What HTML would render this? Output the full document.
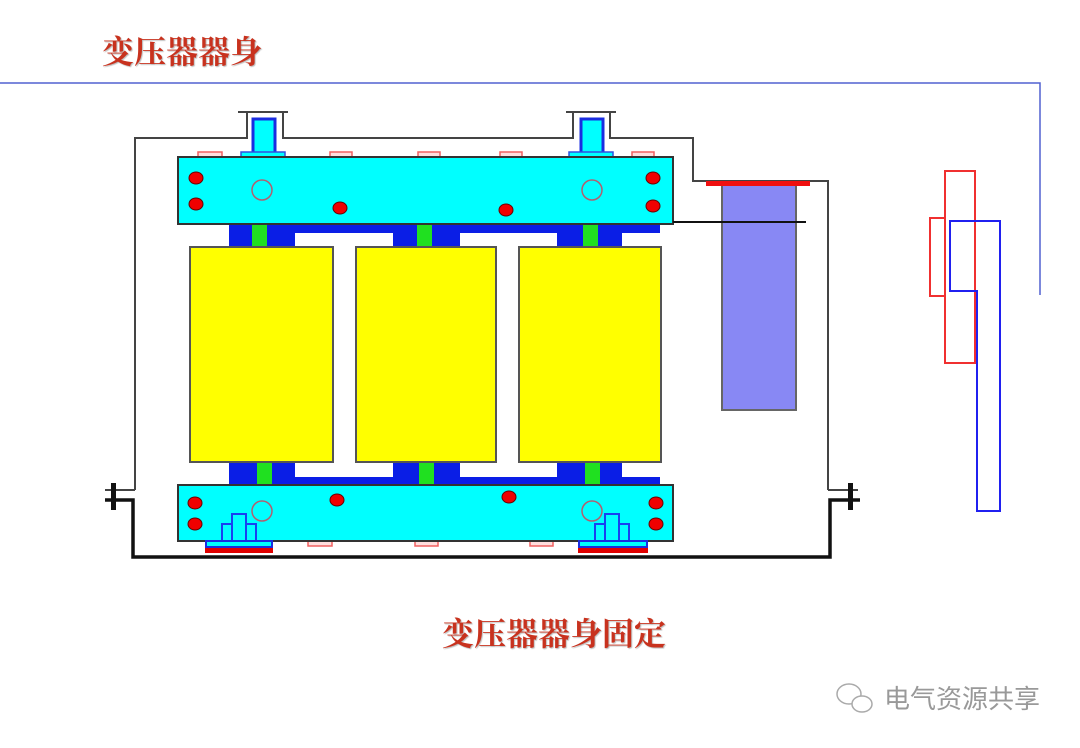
<!DOCTYPE html>
<html><head><meta charset="utf-8"><style>
html,body{margin:0;padding:0;background:#fff;width:1080px;height:748px;overflow:hidden}
.t{position:absolute;font-family:"Liberation Serif","Noto Serif CJK SC",serif;font-weight:bold;color:#c8321e;text-shadow:1px 1px 1px #bbb;white-space:nowrap;line-height:1}
</style></head><body>
<div class="t" style="left:102px;top:36px;font-size:32px;">变压器器身</div>
<div class="t" style="left:442px;top:618px;font-size:32px;">变压器器身固定</div>
<div style="position:absolute;left:884px;top:686px;font-family:'Liberation Sans','Noto Sans CJK SC',sans-serif;font-size:26px;line-height:1;color:#999;white-space:nowrap">电气资源共享</div>
<svg width="1080" height="748" style="position:absolute;left:0;top:0" xmlns="http://www.w3.org/2000/svg">
<g fill="none" stroke="#aaa" stroke-width="1.5"><ellipse cx="849" cy="694" rx="12" ry="10"/><ellipse cx="862" cy="704" rx="10" ry="8" fill="#fff"/></g>
<polyline points="0,83 1040,83 1040,295" fill="none" stroke="#5060d0" stroke-width="1.5"/>
<polyline points="135,490 135,138 247,138 247,112 283,112 283,138 573,138 573,112 610,112 610,138 693,138 693,181 828,181 828,490" fill="none" stroke="#444" stroke-width="2"/>
<line x1="238" y1="112" x2="288" y2="112" stroke="#444" stroke-width="2"/>
<line x1="566" y1="112" x2="616" y2="112" stroke="#444" stroke-width="2"/>
<polyline points="105,490 135,490" fill="none" stroke="#444" stroke-width="2"/>
<polyline points="828,490 858,490" fill="none" stroke="#444" stroke-width="2"/>
<polyline points="105,500 133,500 133,557 830,557 830,500 860,500" fill="none" stroke="#111" stroke-width="3.5"/>
<rect x="111" y="483" width="5" height="27" fill="#111"/>
<rect x="848" y="483" width="5" height="27" fill="#111"/>
<rect x="253" y="119" width="22" height="36" fill="#00ffff" stroke="#1a2de0" stroke-width="3"/>
<rect x="581" y="119" width="22" height="36" fill="#00ffff" stroke="#1a2de0" stroke-width="3"/>
<rect x="241" y="152" width="44" height="5" fill="#00ffff" stroke="#3050e0" stroke-width="1.5"/>
<rect x="569" y="152" width="44" height="5" fill="#00ffff" stroke="#3050e0" stroke-width="1.5"/>
<g fill="#ffdede" stroke="#f06060" stroke-width="1.5">
<rect x="198" y="152" width="24" height="5"/><rect x="330" y="152" width="22" height="5"/><rect x="418" y="152" width="22" height="5"/><rect x="500" y="152" width="22" height="5"/><rect x="632" y="152" width="22" height="5"/>
<rect x="308" y="541" width="24" height="5"/><rect x="415" y="541" width="23" height="5"/><rect x="530" y="541" width="23" height="5"/>
</g>
<g fill="#0a1ee6">
<rect x="229" y="224" width="431" height="9"/>
<rect x="229" y="224" width="66" height="24"/><rect x="393" y="224" width="67" height="24"/><rect x="557" y="224" width="65" height="24"/>
<rect x="229" y="477" width="431" height="9"/>
<rect x="229" y="461" width="66" height="24"/><rect x="393" y="461" width="67" height="24"/><rect x="557" y="461" width="65" height="24"/>
</g>
<g fill="#20e020">
<rect x="252" y="224" width="15" height="24"/><rect x="417" y="224" width="15" height="24"/><rect x="583" y="224" width="15" height="24"/>
<rect x="257" y="461" width="15" height="24"/><rect x="419" y="461" width="15" height="24"/><rect x="585" y="461" width="15" height="24"/>
</g>
<g fill="#ffff00" stroke="#555" stroke-width="2">
<rect x="190" y="247" width="143" height="215"/><rect x="356" y="247" width="140" height="215"/><rect x="519" y="247" width="142" height="215"/>
</g>
<rect x="178" y="157" width="495" height="67" fill="#00ffff" stroke="#333" stroke-width="2"/>
<rect x="178" y="485" width="495" height="56" fill="#00ffff" stroke="#333" stroke-width="2"/>
<g fill="#f00000" stroke="#600" stroke-width="1">
<ellipse cx="196" cy="178" rx="7" ry="6"/><ellipse cx="196" cy="204" rx="7" ry="6"/><ellipse cx="340" cy="208" rx="7" ry="6"/><ellipse cx="506" cy="210" rx="7" ry="6"/><ellipse cx="653" cy="178" rx="7" ry="6"/><ellipse cx="653" cy="206" rx="7" ry="6"/>
<ellipse cx="195" cy="503" rx="7" ry="6"/><ellipse cx="195" cy="524" rx="7" ry="6"/><ellipse cx="337" cy="500" rx="7" ry="6"/><ellipse cx="509" cy="497" rx="7" ry="6"/><ellipse cx="656" cy="503" rx="7" ry="6"/><ellipse cx="656" cy="524" rx="7" ry="6"/>
</g>
<g fill="none" stroke="#b06070" stroke-width="1.5">
<circle cx="262" cy="190" r="10"/><circle cx="592" cy="190" r="10"/><circle cx="262" cy="511" r="10"/><circle cx="592" cy="511" r="10"/>
</g>
<g fill="none" stroke="#1a40f0" stroke-width="2">
<rect x="222" y="524" width="10" height="17"/><rect x="232" y="514" width="14" height="27"/><rect x="246" y="524" width="10" height="17"/>
<rect x="595" y="524" width="10" height="17"/><rect x="605" y="514" width="14" height="27"/><rect x="619" y="524" width="10" height="17"/>
</g>
<rect x="206" y="541" width="66" height="6" fill="#00ffff" stroke="#1a2de0" stroke-width="2"/>
<rect x="579" y="541" width="68" height="6" fill="#00ffff" stroke="#1a2de0" stroke-width="2"/>
<rect x="205" y="548" width="68" height="5" fill="#e00000"/>
<rect x="578" y="548" width="70" height="5" fill="#e00000"/>
<rect x="722" y="185" width="74" height="225" fill="#8888f4" stroke="#666" stroke-width="2"/>
<rect x="706" y="181" width="104" height="5" fill="#f01010"/>
<line x1="673" y1="222" x2="806" y2="222" stroke="#111" stroke-width="2"/>
<g fill="none" stroke="#f03030" stroke-width="2">
<rect x="945" y="171" width="30" height="192"/><rect x="930" y="218" width="15" height="78"/>
</g>
<polygon points="950,221 1000,221 1000,511 977,511 977,291 950,291" fill="none" stroke="#2020f0" stroke-width="2"/>
</svg>
</body></html>
